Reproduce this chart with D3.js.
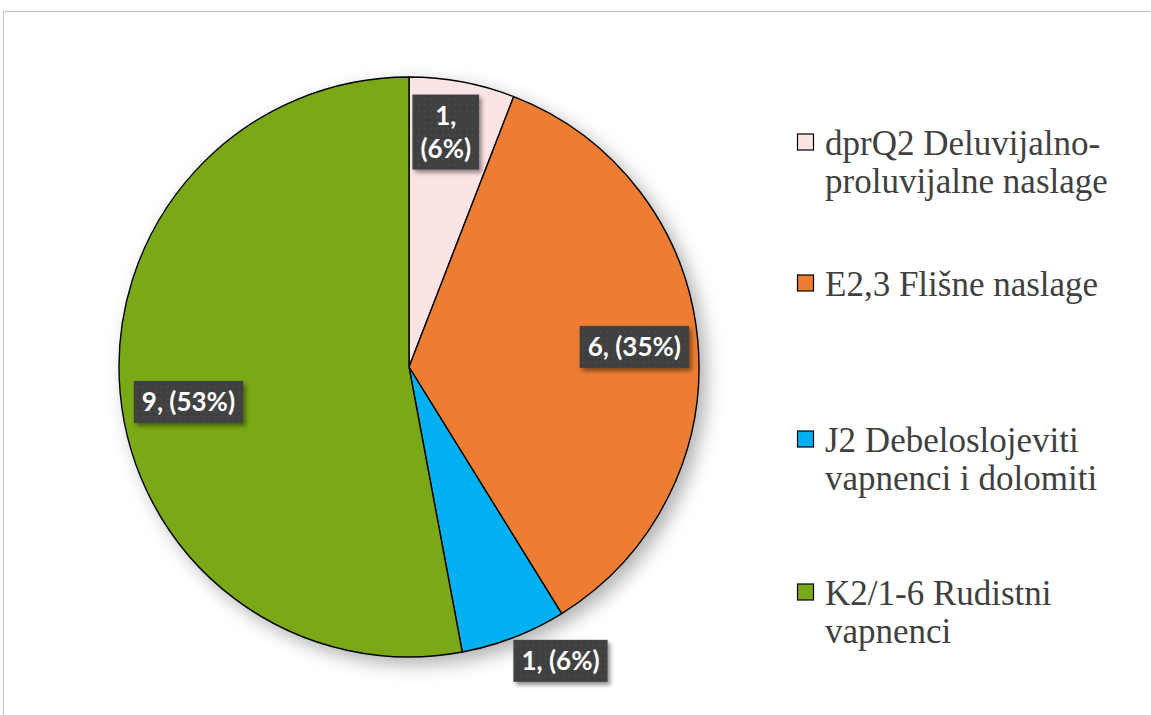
<!DOCTYPE html>
<html>
<head>
<meta charset="utf-8">
<script src="https://cdn.jsdelivr.net/npm/d3@7"></script>
<style>
  body { margin: 0; background: #fff; }
  svg { display: block; }
</style>
</head>
<body>
<div id="chart"></div>
<script>
// data
var categories = [
      "dprQ2 Deluvijalno-proluvijalne naslage"
    , "E2,3 Flišne naslage"
    , "J2 Debeloslojeviti vapnenci i dolomiti"
    , "K2/1-6 Rudistni vapnenci"
  ]
  , values = [1, 6, 1, 9]
  , colors = ["#fde4e4", "#ed7d31", "#00b0f0", "#7aa817"]
  , legendLines = [
      ["dprQ2 Deluvijalno-", "proluvijalne naslage"]
    , ["E2,3 Flišne naslage"]
    , ["J2 Debeloslojeviti", "vapnenci i dolomiti"]
    , ["K2/1-6 Rudistni", "vapnenci"]
  ]
;

var width = 1151, height = 715
  , cx = 409, cy = 367, radius = 290
  // label placement: fraction of radius, angle nudge (degrees)
  , labelPlace = [ [0.82, -1.7], [0.78, 0.2], [1.14, -6.1], [0.77, -3.7] ]
  , legendBase = [155, 296, 452, 605]
  , lineH = 38
;

var svg = d3.select("#chart").append("svg")
    .attr("width", width)
    .attr("height", height)
;

var defs = svg.append("defs");
defs.append("filter")
    .attr("id", "pieShadow")
    .attr("x", "-20%").attr("y", "-20%")
    .attr("width", "140%").attr("height", "140%")
  .append("feDropShadow")
    .attr("dx", 7).attr("dy", 7)
    .attr("stdDeviation", 9)
    .attr("flood-color", "#000")
    .attr("flood-opacity", 0.3)
;
defs.append("filter")
    .attr("id", "boxShadow")
    .attr("x", "-20%").attr("y", "-20%")
    .attr("width", "140%").attr("height", "160%")
  .append("feDropShadow")
    .attr("dx", 2.5).attr("dy", 3)
    .attr("stdDeviation", 2)
    .attr("flood-color", "#000")
    .attr("flood-opacity", 0.45)
;
var pat = defs.append("pattern")
    .attr("id", "dots")
    .attr("width", 6).attr("height", 6)
    .attr("patternUnits", "userSpaceOnUse")
;
pat.append("rect").attr("width", 6).attr("height", 6).attr("fill", "#404040");
pat.append("circle").attr("cx", 3).attr("cy", 3).attr("r", 1).attr("fill", "#4c4c4c");

// chart border
svg.append("rect")
    .attr("x", 3.5).attr("y", 11.5)
    .attr("width", width + 10).attr("height", height + 10)
    .attr("fill", "none")
    .attr("stroke", "#c6c6c6")
    .attr("stroke-width", 1.2)
;

var pie = d3.pie().sort(null).value(function(d) { return d; });
var arcs = pie(values);
var total = d3.sum(values);
var arc = d3.arc().innerRadius(0).outerRadius(radius);

var g = svg.append("g").attr("transform", "translate(" + cx + "," + cy + ")");

g.append("g")
    .attr("filter", "url(#pieShadow)")
  .selectAll("path")
  .data(arcs)
  .enter().append("path")
    .attr("d", arc)
    .attr("fill", function(d, i) { return colors[i]; })
    .attr("stroke", "#000")
    .attr("stroke-width", 1.4)
    .attr("stroke-linejoin", "round")
;

// data labels
var fmt = function(d, i) {
    var pct = Math.round(d.value / total * 100);
    return i === 0 ? [d.value + ",", "(" + pct + "%)"] : [d.value + ", (" + pct + "%)"];
};

var labels = g.selectAll("g.lbl")
  .data(arcs)
  .enter().append("g")
    .attr("class", "lbl")
    .attr("transform", function(d, i) {
        var a = (d.startAngle + d.endAngle) / 2 + labelPlace[i][1] * Math.PI / 180
          , r = radius * labelPlace[i][0];
        return "translate(" + (r * Math.sin(a)) + "," + (-r * Math.cos(a)) + ")";
      })
;
labels.each(function(d, i) {
    var sel = d3.select(this)
      , lines = fmt(d, i)
      , lh = 33
      , box = sel.append("rect").attr("fill", "url(#dots)").attr("filter", "url(#boxShadow)")
      , txt = sel.append("text")
            .attr("text-anchor", "middle")
            .attr("fill", "#fff")
            .style("font-family", "Lato, 'Open Sans', sans-serif")
            .style("font-weight", "bold")
            .style("font-size", "26px")
    ;
    lines.forEach(function(l, k) {
        txt.append("tspan")
            .attr("x", 0)
            .attr("y", (k - (lines.length - 1) / 2) * lh + 9)
            .text(l);
    });
    var bb = txt.node().getBBox()
      , padX = 8, h = lines.length * lh + 9;
    box.attr("x", bb.x - padX).attr("width", bb.width + 2 * padX)
       .attr("y", -h / 2).attr("height", h);
});

// legend
var legend = svg.append("g").selectAll("g")
  .data(categories)
  .enter().append("g")
    .attr("transform", function(d, i) { return "translate(797," + legendBase[i] + ")"; })
;
legend.append("rect")
    .attr("x", 0.5).attr("y", -21)
    .attr("width", 16).attr("height", 16)
    .attr("fill", function(d, i) { return colors[i]; })
    .attr("stroke", "#000")
    .attr("stroke-width", 1.2)
;
legend.append("text")
    .attr("fill", "#404040")
    .style("font-family", "'Liberation Serif', 'Times New Roman', serif")
    .style("font-size", "35px")
    .each(function(d, i) {
        var t = d3.select(this);
        legendLines[i].forEach(function(l, k) {
            t.append("tspan").attr("x", 28).attr("y", k * lineH).text(l);
        });
    })
;
</script>
</body>
</html>
